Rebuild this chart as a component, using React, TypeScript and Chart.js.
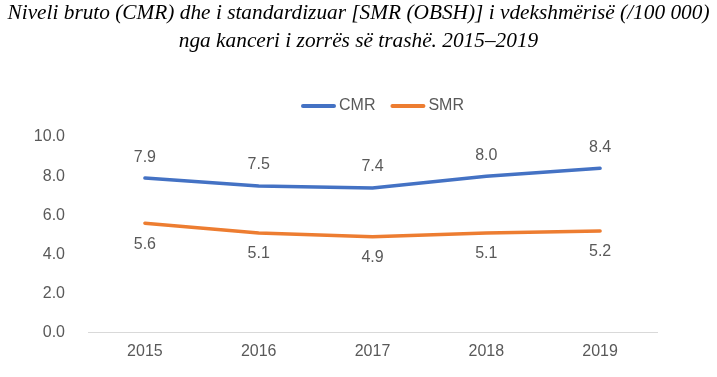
import React, { useEffect, useRef } from "react";
import { Chart, registerables } from "chart.js";

Chart.register(...registerables);

const categories = ["2015", "2016", "2017", "2018", "2019"];
const cmrValues = [7.9, 7.5, 7.4, 8.0, 8.4];
const smrValues = [5.6, 5.1, 4.9, 5.1, 5.2];
const seriesNames = ["CMR", "SMR"];
const seriesColors = ["#4472C4", "#ED7D31"];
const titleLines = [
  "Niveli bruto (CMR) dhe i standardizuar [SMR (OBSH)] i vdekshmërisë (/100 000)",
  "nga kanceri i zorrës së trashë. 2015–2019",
];

const TEXT = "#595959";
const FONT = "'Liberation Sans', Arial, sans-serif";
const TITLE_FONT = "italic 22px 'Liberation Serif', 'Times New Roman', serif";
const TITLE_WIDTH = 702;

const decorPlugin = {
  id: "decor",
  afterDraw(chart: any) {
    const ctx = chart.ctx;
    const W = chart.width;
    ctx.save();
    // title (condensed to the reference width)
    ctx.font = TITLE_FONT;
    ctx.fillStyle = "#000000";
    ctx.textAlign = "center";
    ctx.textBaseline = "middle";
    const sx = Math.min(1, TITLE_WIDTH / ctx.measureText(titleLines[0]).width);
    titleLines.forEach((t, i) => {
      ctx.save();
      ctx.translate(W / 2, 13 + i * 28);
      ctx.scale(sx, 1);
      ctx.fillText(t, 0, 0);
      ctx.restore();
    });
    // legend
    ctx.font = `16px ${FONT}`;
    const lineW = 35;
    const gapText = 3;
    const gapItem = 15;
    const widths = seriesNames.map((n) => lineW + gapText + ctx.measureText(n).width);
    const total = widths.reduce((a, b) => a + b, 0) + gapItem * (widths.length - 1);
    const cx = (chart.chartArea.left + chart.chartArea.right) / 2 + 10;
    let x = cx - total / 2;
    const y = 106;
    seriesNames.forEach((n, i) => {
      ctx.strokeStyle = seriesColors[i];
      ctx.lineWidth = 4;
      ctx.lineCap = "round";
      ctx.beginPath();
      ctx.moveTo(x + 2, y);
      ctx.lineTo(x + lineW - 2, y);
      ctx.stroke();
      ctx.fillStyle = TEXT;
      ctx.textAlign = "left";
      ctx.fillText(n, x + lineW + gapText, y);
      x += widths[i] + gapItem;
    });
    ctx.restore();
  },
  afterDatasetsDraw(chart: any) {
    const ctx = chart.ctx;
    ctx.save();
    ctx.font = `16px ${FONT}`;
    ctx.fillStyle = TEXT;
    ctx.textAlign = "center";
    ctx.textBaseline = "middle";
    chart.data.datasets.forEach((ds: any, i: number) => {
      const meta = chart.getDatasetMeta(i);
      meta.data.forEach((pt: any, j: number) => {
        const v = ds.data[j] as number;
        const dy = i === 0 ? -21 : 21;
        ctx.fillText(v.toFixed(1), pt.x, pt.y + dy);
      });
    });
    ctx.restore();
  },
};

export default function App() {
  const ref = useRef<HTMLCanvasElement | null>(null);
  useEffect(() => {
    document.body.style.margin = "0";
    const chart = new Chart(ref.current!, {
      type: "line",
      data: {
        labels: categories,
        datasets: [
          {
            label: seriesNames[0],
            data: cmrValues,
            borderColor: seriesColors[0],
            backgroundColor: seriesColors[0],
            borderWidth: 3.5,
            pointRadius: 0,
            tension: 0,
            borderCapStyle: "round",
          },
          {
            label: seriesNames[1],
            data: smrValues,
            borderColor: seriesColors[1],
            backgroundColor: seriesColors[1],
            borderWidth: 3.5,
            pointRadius: 0,
            tension: 0,
            borderCapStyle: "round",
          },
        ],
      },
      options: {
        responsive: false,
        animation: false,
        layout: { padding: { left: 0, right: 60, top: 137, bottom: 15 } },
        plugins: {
          title: { display: false },
          legend: { display: false },
          tooltip: { enabled: false },
        },
        scales: {
          x: {
            offset: true,
            grid: { display: false },
            border: { display: true, color: "#d9d9d9", width: 1 },
            ticks: { color: TEXT, font: { family: FONT, size: 16 }, padding: 1 },
          },
          y: {
            min: 0,
            max: 10,
            grid: { display: false },
            border: { display: false },
            ticks: {
              stepSize: 2,
              color: TEXT,
              font: { family: FONT, size: 16 },
              padding: 15,
              callback: (v: any) => Number(v).toFixed(1),
            },
            afterFit: (s: any) => {
              s.width = 88;
            },
          },
        },
      },
      plugins: [decorPlugin],
    } as any);
    return () => chart.destroy();
  }, []);
  return (
    <div style={{ width: 717, height: 377 }}>
      <canvas ref={ref} width={717} height={377} />
    </div>
  );
}
